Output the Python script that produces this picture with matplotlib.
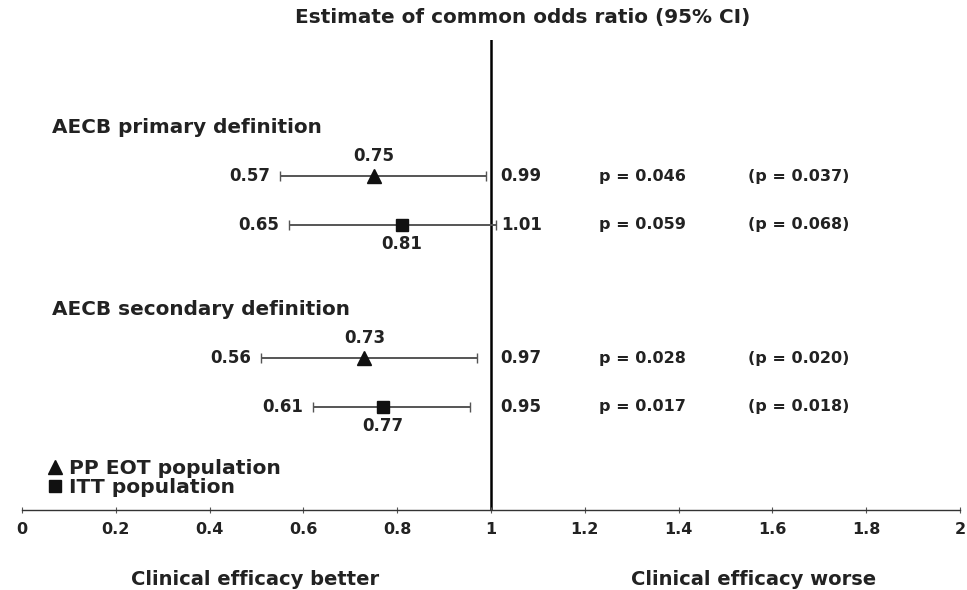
import matplotlib
matplotlib.use("Agg")
import matplotlib.pyplot as plt
from matplotlib.lines import Line2D

plt.rcParams['font.family'] = ['DejaVu Sans']
plt.rcParams['font.weight'] = 'bold'

# ---- data ----
groups = ["AECB primary definition", "AECB secondary definition"]
populations = ["PP EOT population", "ITT population"]
estimate = [0.75, 0.81, 0.73, 0.77]
ci_low = [0.55, 0.57, 0.51, 0.62]          # drawn lower ends (as in picture)
ci_high = [0.99, 1.01, 0.97, 0.955]
low_labels = ["0.57", "0.65", "0.56", "0.61"]
high_labels = ["0.99", "1.01", "0.97", "0.95"]
est_labels = ["0.75", "0.81", "0.73", "0.77"]
p_pp = ["p = 0.046", "p = 0.059", "p = 0.028", "p = 0.017"]
p_itt = ["(p = 0.037)", "(p = 0.068)", "(p = 0.020)", "(p = 0.018)"]
markers = ["^", "s", "^", "s"]
xticks = [0, 0.2, 0.4, 0.6, 0.8, 1, 1.2, 1.4, 1.6, 1.8, 2]
xticklabels = ["0", "0.2", "0.4", "0.6", "0.8", "1", "1.2", "1.4", "1.6", "1.8", "2"]

# row layout (in row units)
header_y = [0, 3.75]
row_y = [1, 2, 4.75, 5.75]

W, H = 967, 590
fig = plt.figure(figsize=(W / 100, H / 100), dpi=100)
ax = fig.add_axes([22 / W, 80 / H, 938 / W, 470 / H])
ax.set_xlim(0, 2)
ax.set_ylim(7.876, -1.814)

for s in ["left", "right", "top"]:
    ax.spines[s].set_visible(False)
ax.spines["bottom"].set_linewidth(1.0)
ax.spines["bottom"].set_color("#333333")
ax.set_yticks([])
ax.set_xticks(xticks)
ax.set_xticklabels(xticklabels, fontsize=11.5, fontweight="bold", color="#222222")
ax.tick_params(axis="x", direction="inout", length=5, width=0.8, color="#555555", pad=6)

ax.axvline(1, color="black", lw=1.8, zorder=1)

ax.errorbar(estimate, row_y,
            xerr=[[e - l for e, l in zip(estimate, ci_low)],
                  [h - e for e, h in zip(estimate, ci_high)]],
            fmt="none", ecolor="#555555", elinewidth=1.4, capsize=3.5, capthick=1.0, zorder=2)

for x, y, m in zip(estimate, row_y, markers):
    ax.plot(x, y, marker=m, color="#111111", markersize=10 if m == "^" else 9,
            linestyle="none", zorder=3)

txt = dict(fontweight="bold", color="#222222")
for i, y in enumerate(row_y):
    ax.annotate(low_labels[i], (ci_low[i], y), xytext=(-7, 0), textcoords="offset points",
                ha="right", va="center", fontsize=12, **txt)
    ax.annotate(high_labels[i], (1, y), xytext=(7, 0), textcoords="offset points",
                ha="left", va="center", fontsize=12, **txt)
    above = markers[i] == "^"
    ax.annotate(est_labels[i], (estimate[i], y), xytext=(0, 15 if above else -14),
                textcoords="offset points", ha="center", va="center", fontsize=12, **txt)
    ax.text(1.23, y, p_pp[i], ha="left", va="center", fontsize=11.5, **txt)
    ax.text(1.548, y, p_itt[i], ha="left", va="center", fontsize=11.5, **txt)

for g, y in zip(groups, header_y):
    ax.text(0.064, y, g, ha="left", va="center", fontsize=14.4, **txt)

# title
fig.text(523 / W, 1 - 18 / H, "Estimate of common odds ratio (95% CI)",
         ha="center", va="center", fontsize=14.4, **txt)

# bottom labels
ax.text(0.497, -0.148, "Clinical efficacy better", transform=ax.get_xaxis_transform(),
        ha="center", va="center", fontsize=14, **txt)
ax.text(1.56, -0.148, "Clinical efficacy worse", transform=ax.get_xaxis_transform(),
        ha="center", va="center", fontsize=14, **txt)

# legend
handles = [Line2D([], [], marker="^", color="#111111", linestyle="none", markersize=10),
           Line2D([], [], marker="s", color="#111111", linestyle="none", markersize=8.5)]
leg = ax.legend(handles, populations, loc="lower left", bbox_to_anchor=(0.018, 0.01),
                frameon=False, handlelength=0.8, handletextpad=0.3, labelspacing=0.0,
                borderaxespad=0, prop=dict(size=14.6, weight="bold"))
for t in leg.get_texts():
    t.set_color("#222222")

fig.savefig("out.png", dpi=100, facecolor="white")
